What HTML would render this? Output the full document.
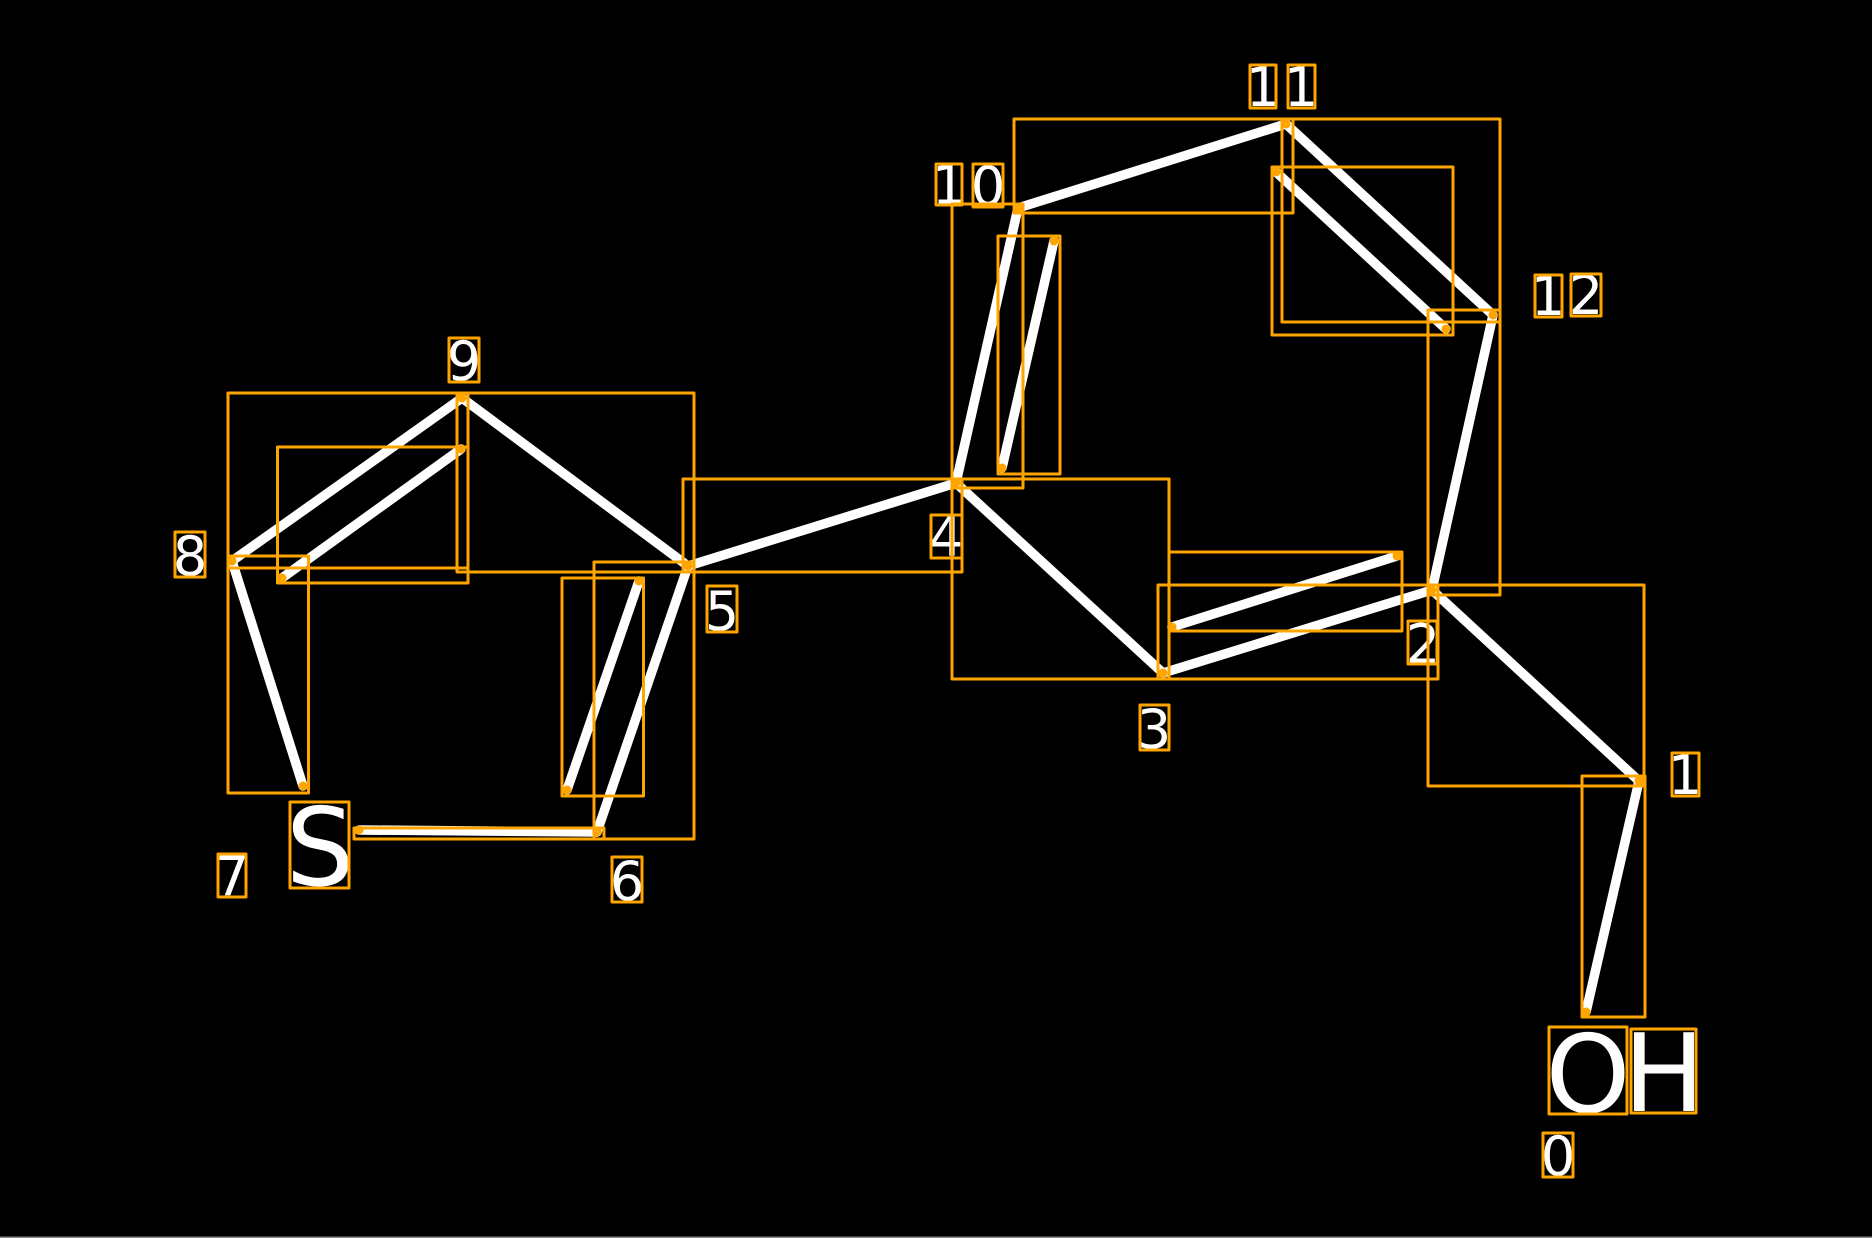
<!DOCTYPE html>
<html><head><meta charset="utf-8"><style>
html,body{margin:0;padding:0;background:#000;width:1872px;height:1238px;overflow:hidden}
svg{display:block}
text{font-family:"DejaVu Sans",sans-serif;fill:#fff;text-anchor:middle}
.b line{stroke:#fff;stroke-width:9.500;stroke-linecap:round}
.r rect{fill:none;stroke:#ffa500;stroke-width:3;stroke-linejoin:round}
.d circle{fill:#ffa500}
</style></head><body>
<svg width="1872" height="1238" viewBox="0 0 1872 1238" xmlns="http://www.w3.org/2000/svg">
<rect width="1872" height="1238" fill="#000"/>
<rect x="0" y="1236.500" width="1872" height="1.500" fill="#888"/>
<g class="b">
<line x1="1586" y1="1012" x2="1639" y2="781"/>
<line x1="1639" y1="781" x2="1432" y2="590"/>
<line x1="1432" y1="590" x2="1163" y2="673"/>
<line x1="1397" y1="556" x2="1172" y2="627"/>
<line x1="1163" y1="673" x2="956" y2="483"/>
<line x1="956" y1="483" x2="688" y2="566"/>
<line x1="688" y1="566" x2="597" y2="832"/>
<line x1="639" y1="581" x2="567" y2="790"/>
<line x1="597" y1="832" x2="359" y2="830"/>
<line x1="303" y1="786" x2="232" y2="561"/>
<line x1="232" y1="561" x2="462" y2="398"/>
<line x1="282" y1="578" x2="461" y2="449"/>
<line x1="462" y1="398" x2="688" y2="566"/>
<line x1="956" y1="483" x2="1018" y2="208"/>
<line x1="1002" y1="468" x2="1054" y2="241"/>
<line x1="1018" y1="208" x2="1286" y2="124"/>
<line x1="1286" y1="124" x2="1493" y2="315"/>
<line x1="1276" y1="172" x2="1446" y2="329"/>
<line x1="1493" y1="315" x2="1432" y2="590"/>
</g>
<text x="1263" y="106" font-size="54">1</text>
<text x="1301" y="106" font-size="54">1</text>
<text x="949" y="204" font-size="54">1</text>
<text x="988" y="205" font-size="54">0</text>
<text x="1548" y="315" font-size="54">1</text>
<text x="1586" y="314" font-size="54">2</text>
<text x="1685" y="794" font-size="54">1</text>
<text x="1423" y="663" font-size="54">2</text>
<text x="1154" y="748" font-size="54">3</text>
<text x="946" y="556" font-size="54">4</text>
<text x="722" y="630" font-size="54">5</text>
<text x="627" y="900" font-size="54">6</text>
<text x="232" y="895" font-size="54">7</text>
<text x="190" y="575" font-size="54">8</text>
<text x="464" y="380" font-size="54">9</text>
<text x="1558" y="1175" font-size="54">0</text>
<text x="320" y="885" font-size="108">S</text>
<text x="1588" y="1112" font-size="108">O</text>
<text x="1664" y="1111" font-size="108">H</text>
<g class="r">
<rect x="1282" y="119" width="218" height="203"/>
<rect x="1272" y="167" width="181" height="168"/>
<rect x="1014" y="119" width="279" height="94"/>
<rect x="952" y="204" width="71" height="284"/>
<rect x="998" y="236" width="62" height="238"/>
<rect x="1428" y="310" width="72" height="285"/>
<rect x="1428" y="585" width="216" height="201"/>
<rect x="1582" y="776" width="63" height="241"/>
<rect x="1158" y="585" width="280" height="94"/>
<rect x="1169" y="552" width="233" height="79"/>
<rect x="952" y="479" width="217" height="200"/>
<rect x="683" y="479" width="279" height="93"/>
<rect x="457" y="393" width="237" height="179"/>
<rect x="228" y="393" width="240" height="175"/>
<rect x="277.500" y="447" width="190.500" height="136"/>
<rect x="228" y="556" width="80.500" height="237"/>
<rect x="594" y="562" width="100" height="277"/>
<rect x="562" y="578" width="81.500" height="218"/>
<rect x="354" y="828" width="250" height="11"/>
<rect x="1250" y="65" width="26" height="43"/>
<rect x="1288" y="65" width="27" height="43"/>
<rect x="936" y="164" width="26" height="41"/>
<rect x="973" y="164" width="30" height="43"/>
<rect x="1535" y="275" width="27" height="42"/>
<rect x="1571" y="274" width="30" height="42"/>
<rect x="1672" y="753" width="27" height="43"/>
<rect x="1408" y="621" width="29" height="43"/>
<rect x="1140" y="705" width="29" height="45"/>
<rect x="931" y="515" width="31" height="43"/>
<rect x="707" y="586" width="30" height="46"/>
<rect x="612" y="857" width="30" height="45"/>
<rect x="218" y="854" width="28" height="43"/>
<rect x="290" y="802" width="59" height="86"/>
<rect x="175" y="532" width="30" height="45"/>
<rect x="449" y="338" width="30" height="44"/>
<rect x="1543" y="1133" width="30" height="44"/>
<rect x="1549" y="1027" width="78" height="87"/>
<rect x="1631" y="1029" width="65" height="84"/>
</g>
<g class="d">
<circle cx="1586" cy="1012" r="4.500"/><circle cx="1639" cy="781" r="4.500"/><circle cx="1432" cy="590" r="4.500"/>
<circle cx="1163" cy="673" r="4.500"/><circle cx="1397" cy="556" r="4.500"/><circle cx="1172" cy="627" r="4.500"/>
<circle cx="956" cy="483" r="4.500"/><circle cx="688" cy="566" r="4.500"/><circle cx="597" cy="832" r="4.500"/>
<circle cx="639" cy="581" r="4.500"/><circle cx="567" cy="790" r="4.500"/><circle cx="359" cy="830" r="4.500"/>
<circle cx="303" cy="786" r="4.500"/><circle cx="232" cy="561" r="4.500"/><circle cx="462" cy="398" r="4.500"/>
<circle cx="282" cy="578" r="4.500"/><circle cx="461" cy="449" r="4.500"/><circle cx="1018" cy="208" r="4.500"/>
<circle cx="1002" cy="468" r="4.500"/><circle cx="1054" cy="241" r="4.500"/><circle cx="1286" cy="124" r="4.500"/>
<circle cx="1493" cy="315" r="4.500"/><circle cx="1276" cy="172" r="4.500"/><circle cx="1446" cy="329" r="4.500"/>
</g>
</svg>
</body></html>
